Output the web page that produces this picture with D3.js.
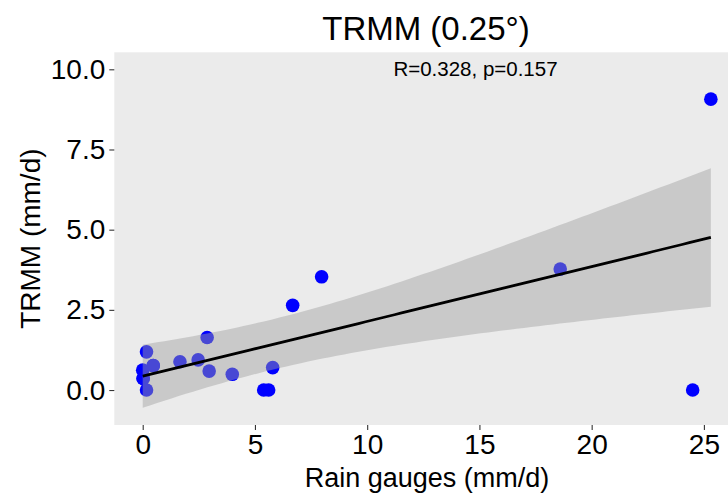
<!DOCTYPE html>
<html>
<head>
<meta charset="utf-8">
<script src="https://cdn.jsdelivr.net/npm/d3@7/dist/d3.min.js"></script>
<style>
  html, body { margin: 0; padding: 0; background: #ffffff; }
  svg { display: block; }
  text { font-family: "Liberation Sans", Arial, sans-serif; }
</style>
</head>
<body>
<svg id="chart" width="728" height="495"></svg>
<script>
// Station rainfall (rain gauges) vs. TRMM 0.25° estimates, mm/d
const gauge = [0.17, 0.47, 0.47, 0.00, 0.02, 0.02, 0.17, 1.66, 2.47, 2.87,
               2.96, 3.99, 5.39, 5.61, 5.79, 6.68, 7.97, 18.6, 24.5, 25.31];
const trmm  = [1.19, 0.76, 0.76, 0.62, 0.36, 0.36, 0.00, 0.88, 0.94, 1.64,
               0.59, 0.49, 0.00, 0.00, 0.70, 2.64, 3.53, 3.77, 0.00, 9.07];

const xTicks = [0, 5, 10, 15, 20, 25];
const yTicks = [0, 2.5, 5, 7.5, 10];
const titleText = "TRMM (0.25°)";
const xTitle = "Rain gauges (mm/d)";
const yTitle = "TRMM (mm/d)";
const statLabel = "R=0.328, p=0.157";

const svg = d3.select("#chart");

// panel geometry
const panel = { left: 114.3, top: 52.3, right: 739.3, bottom: 425 };

const x = d3.scaleLinear().domain([-1.2655, 26.577]).range([panel.left, panel.right]);
const y = d3.scaleLinear().domain([-1.09, 10.53]).range([panel.bottom, panel.top]);

// ordinary least squares fit with 95% confidence band
const pts = gauge.map((g, i) => ({ x: g, y: trmm[i] }));
const n = pts.length;
const mx = d3.mean(pts, d => d.x), my = d3.mean(pts, d => d.y);
const sxx = d3.sum(pts, d => (d.x - mx) ** 2);
const sxy = d3.sum(pts, d => (d.x - mx) * (d.y - my));
const slope = sxy / sxx, intercept = my - slope * mx;
const rss = d3.sum(pts, d => (d.y - intercept - slope * d.x) ** 2);
const df = n - 2;
const s = Math.sqrt(rss / df);
// Student t 0.975 quantile (Cornish-Fisher expansion)
function tQuantile(z, v) {
  const z3 = z ** 3, z5 = z ** 5, z7 = z ** 7, z9 = z ** 9;
  return z + (z3 + z) / (4 * v)
    + (5 * z5 + 16 * z3 + 3 * z) / (96 * v * v)
    + (3 * z7 + 19 * z5 + 17 * z3 - 15 * z) / (384 * v ** 3)
    + (79 * z9 + 776 * z7 + 1482 * z5 - 1920 * z3 - 945 * z) / (92160 * v ** 4);
}
const tc = tQuantile(1.959964, df);
const [x0, x1] = d3.extent(gauge);
const fit = d3.range(80).map(i => {
  const xv = x0 + (x1 - x0) * i / 79;
  const yv = intercept + slope * xv;
  const se = s * Math.sqrt(1 / n + (xv - mx) ** 2 / sxx);
  return { x: xv, y: yv, lo: yv - tc * se, hi: yv + tc * se };
});

// panel background
svg.append("rect")
  .attr("x", panel.left).attr("y", panel.top)
  .attr("width", panel.right - panel.left).attr("height", panel.bottom - panel.top)
  .attr("fill", "#EBEBEB");

svg.append("clipPath").attr("id", "panel-clip")
  .append("rect")
  .attr("x", panel.left).attr("y", panel.top)
  .attr("width", panel.right - panel.left).attr("height", panel.bottom - panel.top);

const plot = svg.append("g").attr("clip-path", "url(#panel-clip)");

// points
plot.selectAll("circle.pt").data(pts).join("circle")
  .attr("class", "pt")
  .attr("cx", d => x(d.x)).attr("cy", d => y(d.y))
  .attr("r", 6.8)
  .attr("fill", "#0000FF");

// confidence band
plot.append("path")
  .datum(fit)
  .attr("d", d3.area().x(d => x(d.x)).y0(d => y(d.lo)).y1(d => y(d.hi)))
  .attr("fill", "#A0A0A0").attr("fill-opacity", 0.45);

// fitted line
plot.append("path")
  .datum(fit)
  .attr("d", d3.line().x(d => x(d.x)).y(d => y(d.y)))
  .attr("fill", "none").attr("stroke", "#000").attr("stroke-width", 2.8);

// stat label
svg.append("text")
  .attr("x", 475.5).attr("y", y(10)).attr("dy", "0.35em")
  .attr("text-anchor", "middle")
  .attr("font-size", 20.5).attr("fill", "#000")
  .text(statLabel);

// axes
const xAxis = d3.axisBottom(x).tickValues(xTicks).tickFormat(d3.format("d"))
  .tickSize(5).tickPadding(4);
const gx = svg.append("g").attr("transform", `translate(0,${panel.bottom})`).call(xAxis);
gx.select(".domain").remove();
gx.selectAll("line").attr("stroke", "#333").attr("stroke-width", 1.1);
gx.selectAll("text").attr("font-size", 28).attr("fill", "#000")
  .attr("font-family", "'Liberation Sans', Arial, sans-serif");

const yAxis = d3.axisLeft(y).tickValues(yTicks).tickFormat(d3.format(".1f"))
  .tickSize(5).tickPadding(4);
const gy = svg.append("g").attr("transform", `translate(${panel.left},0)`).call(yAxis);
gy.select(".domain").remove();
gy.selectAll("line").attr("stroke", "#333").attr("stroke-width", 1.1);
gy.selectAll("text").attr("font-size", 28).attr("fill", "#000")
  .attr("font-family", "'Liberation Sans', Arial, sans-serif");

// titles
svg.append("text")
  .attr("x", 426).attr("y", 40)
  .attr("text-anchor", "middle")
  .attr("font-size", 33).attr("fill", "#000")
  .text(titleText);

svg.append("text")
  .attr("x", 427).attr("y", 487)
  .attr("text-anchor", "middle")
  .attr("font-size", 27).attr("fill", "#000")
  .text(xTitle);

svg.append("text")
  .attr("transform", `translate(40,${(panel.top + panel.bottom) / 2}) rotate(-90)`)
  .attr("text-anchor", "middle")
  .attr("font-size", 28).attr("fill", "#000")
  .text(yTitle);
</script>
</body>
</html>
